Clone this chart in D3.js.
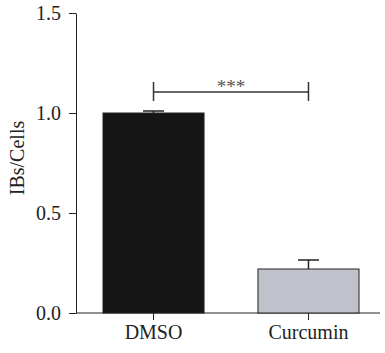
<!DOCTYPE html>
<html>
<head>
<meta charset="utf-8">
<script src="https://cdn.jsdelivr.net/npm/d3@7"></script>
<style>
  body { margin: 0; background: #fff; }
  text { font-family: "Liberation Serif", "DejaVu Serif", serif; fill: #222; }
</style>
</head>
<body>
<svg id="chart" width="385" height="353"></svg>
<script>
// data
var groups = ["DMSO", "Curcumin"];
var means = [1.0, 0.22];
var errs = [0.01, 0.045];
var barColors = ["#151515", "#bfc2ca"];
var yTicks = [0, 0.5, 1.0, 1.5];
var sigLevel = 1.105;   // height of the bracket
var sigLabel = "***";

var svg = d3.select("#chart");

var y = d3.scaleLinear().domain([0, 1.5]).range([313, 13]);
var x = d3.scaleBand().domain(groups).range([103, 359]).paddingInner(0.348).paddingOuter(0);

// y axis
var yAxis = d3.axisLeft(y).tickValues(yTicks).tickFormat(d3.format(".1f")).tickSize(7).tickSizeOuter(0);
var gy = svg.append("g").attr("transform", "translate(76,0)").call(yAxis);
gy.select(".domain").attr("stroke", "#222");
gy.selectAll(".tick line").attr("stroke", "#222");
gy.selectAll(".tick text").attr("x", -15).style("font-size", "20px").style("font-family", "Liberation Serif").attr("fill", "#222");

// x axis
var xAxis = d3.axisBottom(x).tickSize(7).tickSizeOuter(0);
var gx = svg.append("g").attr("transform", "translate(0,313)").call(xAxis);
gx.select(".domain").remove();
gx.selectAll(".tick line").attr("stroke", "#222");
gx.selectAll(".tick text").attr("y", 12).style("font-size", "20px").style("font-family", "Liberation Serif").attr("fill", "#222");
svg.append("line")
  .attr("x1", 76).attr("x2", 380)
  .attr("y1", y(0)).attr("y2", y(0))
  .attr("stroke", "#222");

// bars
svg.selectAll(".bar").data(groups).enter().append("rect")
  .attr("class", "bar")
  .attr("x", function(d) { return x(d); })
  .attr("width", x.bandwidth())
  .attr("y", function(d, i) { return y(means[i]); })
  .attr("height", function(d, i) { return y(0) - y(means[i]); })
  .attr("fill", function(d, i) { return barColors[i]; })
  .attr("stroke", "#222")
  .attr("stroke-width", 1);

// error bars, upper half only
var capW = 21;
groups.forEach(function(g, i) {
  var cx = x(g) + x.bandwidth() / 2;
  svg.append("line")
    .attr("x1", cx).attr("x2", cx)
    .attr("y1", y(means[i])).attr("y2", y(means[i] + errs[i]))
    .attr("stroke", "#222").attr("stroke-width", 1.5);
  svg.append("line")
    .attr("x1", cx - capW / 2).attr("x2", cx + capW / 2)
    .attr("y1", y(means[i] + errs[i])).attr("y2", y(means[i] + errs[i]))
    .attr("stroke", "#222").attr("stroke-width", 1.5);
});

// significance bracket
var x1 = x(groups[0]) + x.bandwidth() / 2;
var x2 = x(groups[1]) + x.bandwidth() / 2;
var sy = y(sigLevel);
svg.append("line").attr("x1", x1).attr("x2", x2).attr("y1", sy).attr("y2", sy).attr("stroke", "#333").attr("stroke-width", 1.5);
[x1, x2].forEach(function(xx) {
  svg.append("line").attr("x1", xx).attr("x2", xx).attr("y1", sy - 10).attr("y2", sy + 9).attr("stroke", "#333").attr("stroke-width", 1.5);
});
svg.append("text")
  .attr("x", (x1 + x2) / 2).attr("y", sy + 1)
  .attr("text-anchor", "middle")
  .style("font-size", "19px")
  .style("fill", "#555")
  .text(sigLabel);

// y label
svg.append("text")
  .attr("transform", "translate(24,158) rotate(-90)")
  .attr("text-anchor", "middle")
  .style("font-size", "20px")
  .text("IBs/Cells");
</script>
</body>
</html>
